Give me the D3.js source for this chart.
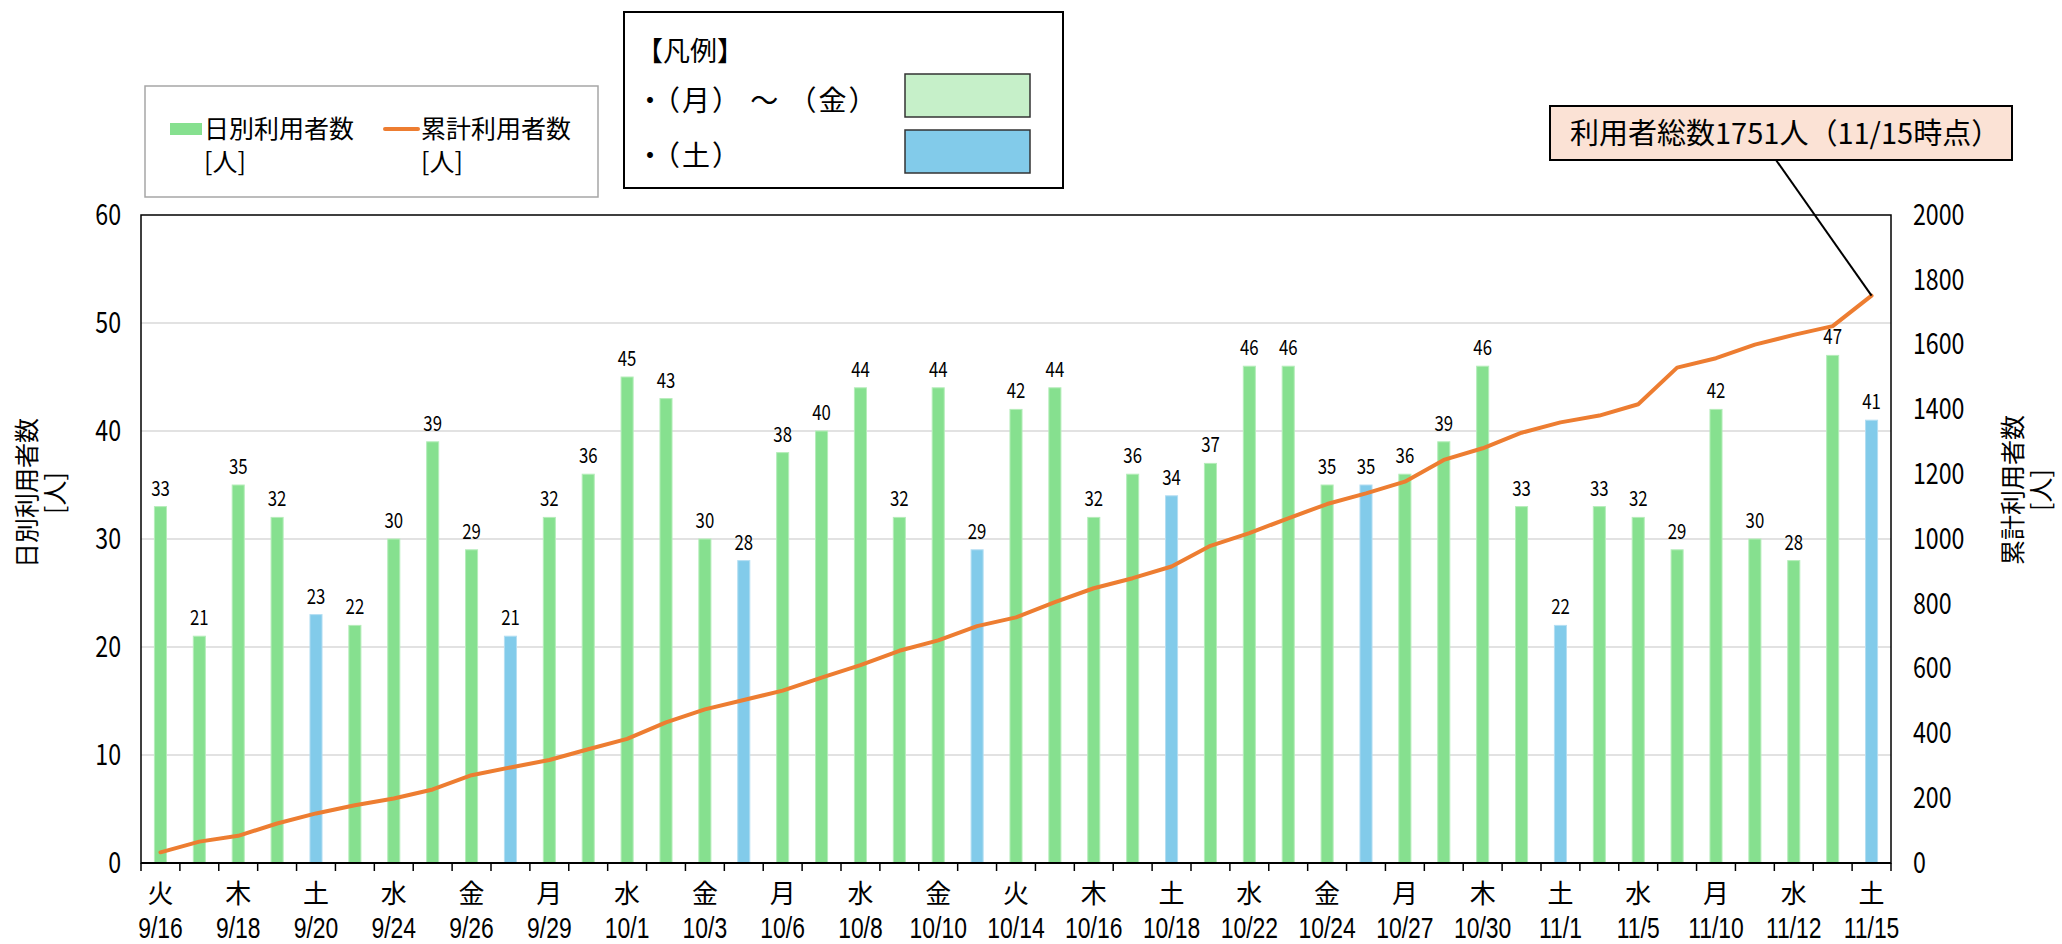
<!DOCTYPE html>
<html>
<head>
<meta charset="utf-8">
<script src="https://cdn.jsdelivr.net/npm/d3@7"></script>
<style>
  html, body { margin: 0; padding: 0; background: #fff; }
  svg { display: block; }
</style>
</head>
<body>
<div id="chart"></div>
<script>
// 日別・累計利用者数 (9/16〜11/15)
const dates = ['9/16','9/17','9/18','9/19','9/20','9/22','9/24','9/25','9/26','9/27',
  '9/29','9/30','10/1','10/2','10/3','10/4','10/6','10/7','10/8','10/9',
  '10/10','10/11','10/14','10/15','10/16','10/17','10/18','10/21','10/22','10/23',
  '10/24','10/25','10/27','10/29','10/30','10/31','11/1','11/4','11/5','11/7',
  '11/10','11/11','11/12','11/14','11/15'];
const weekdays = ['火','水','木','金','土','月','水','木','金','土',
  '月','火','水','木','金','土','月','火','水','木',
  '金','土','火','水','木','金','土','火','水','木',
  '金','土','月','水','木','金','土','火','水','金',
  '月','火','水','金','土'];
const daily = [33,21,35,32,23,22,30,39,29,21,32,36,45,43,30,28,38,40,44,32,
  44,29,42,44,32,36,34,37,46,46,35,35,36,39,46,33,22,33,32,29,42,30,28,47,41];
const cumulative = [33,66,84,122,153,178,199,227,271,295,318,351,383,434,474,503,532,572,611,655,
  687,731,758,805,848,879,915,979,1018,1064,1108,1141,1177,1244,1280,1328,1360,1381,1416,1529,
  1558,1600,1630,1657,1751];
const leftTicks = [0,10,20,30,40,50,60];
const rightTicks = [0,200,400,600,800,1000,1200,1400,1600,1800,2000];
const totalLabel = '利用者総数1751人（11/15時点）';

const NUM_FONT = '"Noto Sans CJK JP", sans-serif';
const DATE_FONT = '"Liberation Sans", Arial, sans-serif';
const JP_FONT = '"Noto Sans CJK JP", sans-serif';
const GREEN = '#86e08f';
const BLUE = '#82cbea';
const ORANGE = '#ed7d31';

const width = 2062, height = 944;
const plot = { left: 141, right: 1891, top: 215, bottom: 863 };

const svg = d3.select('#chart').append('svg')
  .attr('width', width)
  .attr('height', height);

const x = d3.scaleBand()
  .domain(d3.range(daily.length))
  .range([plot.left, plot.right])
  .padding(0);
const y = d3.scaleLinear().domain([0, 60]).range([plot.bottom, plot.top]);
const y2 = d3.scaleLinear().domain([0, 2000]).range([plot.bottom, plot.top]);

const barW = x.bandwidth() * 0.31;
const cx = i => x(i) + x.bandwidth() / 2;

// narrow text: the reference digits are condensed
function narrowText(sel, px, py, sx) {
  return sel.append('g')
    .attr('transform', `translate(${px},${py}) scale(${sx},1)`)
    .append('text')
    .attr('text-anchor', 'middle');
}

// gridlines
svg.append('g')
  .selectAll('line')
  .data(leftTicks.filter(d => d > 0 && d < 60))
  .join('line')
  .attr('x1', plot.left).attr('x2', plot.right)
  .attr('y1', d => y(d)).attr('y2', d => y(d))
  .attr('stroke', '#d9d9d9')
  .attr('stroke-width', 1.5);

// bars
svg.append('g')
  .selectAll('rect')
  .data(daily)
  .join('rect')
  .attr('x', (d, i) => cx(i) - barW / 2)
  .attr('y', d => y(d))
  .attr('width', barW)
  .attr('height', d => y(0) - y(d))
  .attr('fill', (d, i) => weekdays[i] === '土' ? BLUE : GREEN)
  .attr('stroke', (d, i) => weekdays[i] === '土' ? '#b3def2' : '#b5edba')
  .attr('stroke-width', 1);

// bar labels
const barLabels = svg.append('g');
daily.forEach((d, i) => {
  narrowText(barLabels, cx(i), y(d) - 11, 0.8)
    .style('font-family', NUM_FONT)
    .style('font-size', '21px')
    .text(d);
});

// cumulative line
const line = d3.line()
  .x((d, i) => cx(i))
  .y(d => y2(d));
svg.append('path')
  .datum(cumulative)
  .attr('fill', 'none')
  .attr('stroke', ORANGE)
  .attr('stroke-width', 4)
  .attr('stroke-linejoin', 'round')
  .attr('stroke-linecap', 'round')
  .attr('d', line);

// frame
svg.append('rect')
  .attr('x', plot.left).attr('y', plot.top)
  .attr('width', plot.right - plot.left)
  .attr('height', plot.bottom - plot.top)
  .attr('fill', 'none')
  .attr('stroke', '#000')
  .attr('stroke-width', 1.5);
svg.append('line')
  .attr('x1', plot.left).attr('x2', plot.right)
  .attr('y1', plot.bottom).attr('y2', plot.bottom)
  .attr('stroke', '#000').attr('stroke-width', 2);

// x ticks at band boundaries
svg.append('g')
  .selectAll('line')
  .data(d3.range(daily.length + 1))
  .join('line')
  .attr('x1', i => plot.left + i * x.step())
  .attr('x2', i => plot.left + i * x.step())
  .attr('y1', plot.bottom).attr('y2', plot.bottom + 8)
  .attr('stroke', '#000').attr('stroke-width', 1.5);

// x labels (every other day): weekday over date
const xl = svg.append('g');
d3.range(0, daily.length, 2).forEach(i => {
  xl.append('text')
    .attr('x', cx(i)).attr('y', 903)
    .attr('text-anchor', 'middle')
    .style('font-family', JP_FONT)
    .style('font-size', '26px')
    .text(weekdays[i]);
  const dt = xl.append('text')
    .attr('x', cx(i)).attr('y', 937.5)
    .attr('text-anchor', 'middle')
    .style('font-family', DATE_FONT)
    .style('font-size', '29px')
    .text(dates[i]);
  const w = dt.node().getComputedTextLength();
  dt.attr('textLength', w * 0.79).attr('lengthAdjust', 'spacingAndGlyphs');
});

// y axes
const TICK_SX = 0.8;
const yAxisL = svg.append('g')
  .attr('transform', `translate(${plot.left},0)`)
  .call(d3.axisLeft(y).tickValues(leftTicks).tickSize(0).tickPadding(20));
const yAxisR = svg.append('g')
  .attr('transform', `translate(${plot.right},0)`)
  .call(d3.axisRight(y2).tickValues(rightTicks).tickFormat(d3.format('d')).tickSize(0).tickPadding(22));
[yAxisL, yAxisR].forEach(a => {
  a.select('.domain').remove();
  a.selectAll('text')
    .attr('x', function () { return +d3.select(this).attr('x') / TICK_SX; })
    .attr('transform', `scale(${TICK_SX},1)`)
    .style('font-family', NUM_FONT)
    .style('font-size', '29px')
    .style('fill', '#000');
});

// axis titles
function vTitle(cxPos, cyPos, lines) {
  const t = svg.append('text')
    .attr('transform', `translate(${cxPos},${cyPos}) rotate(-90)`)
    .attr('text-anchor', 'middle')
    .style('font-family', JP_FONT)
    .style('font-size', '25px');
  lines.forEach((s, k) => {
    t.append('tspan').attr('x', 0).attr('y', k * 28 + 9).text(s);
  });
}
vTitle(27, 493, ['日別利用者数', '[人]']);
vTitle(2013, 490, ['累計利用者数', '[人]']);

// series legend
const lg = svg.append('g');
lg.append('rect')
  .attr('x', 145).attr('y', 86).attr('width', 453).attr('height', 111)
  .attr('fill', '#fff').attr('stroke', '#a6a6a6').attr('stroke-width', 1.5);
lg.append('rect')
  .attr('x', 170).attr('y', 123).attr('width', 32).attr('height', 12)
  .attr('fill', GREEN);
lg.append('line')
  .attr('x1', 385).attr('x2', 418).attr('y1', 129).attr('y2', 129)
  .attr('stroke', ORANGE).attr('stroke-width', 4).attr('stroke-linecap', 'round');
[[204, '日別利用者数'], [421, '累計利用者数']].forEach(([lx, s]) => {
  const t = lg.append('text')
    .style('font-family', JP_FONT)
    .style('font-size', '25px');
  t.append('tspan').attr('x', lx).attr('y', 138).text(s);
  t.append('tspan').attr('x', lx).attr('y', 171).text('[人]');
});

// colour key box
const kb = svg.append('g');
kb.append('rect')
  .attr('x', 624).attr('y', 12).attr('width', 439).attr('height', 176)
  .attr('fill', '#fff').attr('stroke', '#000').attr('stroke-width', 2);
kb.append('text')
  .attr('x', 636).attr('y', 61)
  .style('font-family', JP_FONT).style('font-size', '27px')
  .text('【凡例】');
kb.append('text')
  .attr('x', 636).attr('y', 111)
  .style('font-family', JP_FONT).style('font-size', '28px')
  .style('letter-spacing', '2px')
  .text('・（月） ～ （金）');
kb.append('text')
  .attr('x', 636).attr('y', 166)
  .style('font-family', JP_FONT).style('font-size', '28px')
  .style('letter-spacing', '2px')
  .text('・（土）');
kb.append('rect')
  .attr('x', 905).attr('y', 74).attr('width', 125).attr('height', 43)
  .attr('fill', '#c6f0c9').attr('stroke', '#333').attr('stroke-width', 1.5);
kb.append('rect')
  .attr('x', 905).attr('y', 130).attr('width', 125).attr('height', 43)
  .attr('fill', BLUE).attr('stroke', '#333').attr('stroke-width', 1.5);

// total annotation
const last = cumulative.length - 1;
svg.append('line')
  .attr('x1', 1776).attr('y1', 160)
  .attr('x2', cx(last)).attr('y2', y2(cumulative[last]))
  .attr('stroke', '#000').attr('stroke-width', 2);
svg.append('rect')
  .attr('x', 1550).attr('y', 106).attr('width', 462).attr('height', 54)
  .attr('fill', '#fbe2d5').attr('stroke', '#000').attr('stroke-width', 2);
svg.append('text')
  .attr('x', 1570).attr('y', 144)
  .style('font-family', JP_FONT)
  .style('font-size', '29px')
  .text(totalLabel);
</script>
</body>
</html>
